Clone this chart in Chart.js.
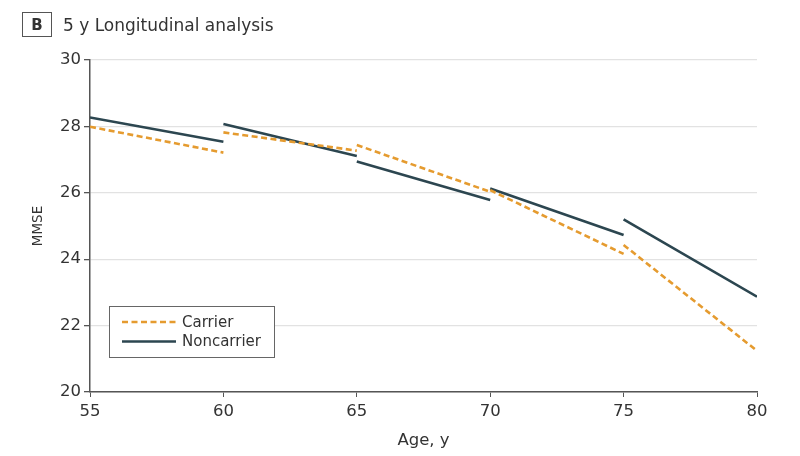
<!DOCTYPE html>
<html>
<head>
<meta charset="utf-8">
<script src="https://cdn.jsdelivr.net/npm/chart.js@4"></script>
<style>
   html, body { margin: 0; padding: 0; background: #fff; }
   .wrap { position: relative; width: 800px; height: 456px; }
   .panel-title { position: absolute; left: 22px; top: 12px; display: flex; align-items: center; font-family: 'DejaVu Sans', sans-serif; color: #333; }
   .panel-letter { width: 28px; height: 23px; border: 1px solid #555; font-weight: 700; font-size: 15px; display: flex; align-items: center; justify-content: center; }
   .panel-text { margin-left: 11px; font-size: 17px; }
</style>
</head>
<body>
<div class="wrap">
   <canvas id="mmseChart" width="800" height="456"></canvas>
   <div class="panel-title">
      <div class="panel-letter">B</div>
      <div class="panel-text">5 y Longitudinal analysis</div>
   </div>
</div>
<script>
// Each 5-year window is drawn as its own line segment
const segmentStartAge = [55, 60, 65, 70, 75];
const segmentEndAge = [60, 65, 70, 75, 80];

const carrierStart = [27.99, 27.82, 27.44, 26.08, 24.43];
const carrierEnd = [27.21, 27.27, 26.03, 24.16, 21.24];

const noncarrierStart = [28.27, 28.07, 26.94, 26.13, 25.20];
const noncarrierEnd = [27.54, 27.11, 25.78, 24.73, 22.87];

const xTicks = [55, 60, 65, 70, 75, 80];
const yTicks = [20, 22, 24, 26, 28, 30];

const seriesNames = ['Carrier', 'Noncarrier'];

// Build point list with a null between windows so the lines break
function buildSegments(starts, ends) {
   const pts = [];
   starts.forEach((s, i) => {
      if (i > 0) pts.push({ x: segmentStartAge[i], y: null });
      pts.push({ x: segmentStartAge[i], y: s });
      pts.push({ x: segmentEndAge[i], y: ends[i] });
   });
   return pts;
}

const FONT = "'DejaVu Sans', sans-serif";
const TEXT = '#333';

// Legend box drawn inside the plot, bottom-left
const insideLegend = {
   id: 'insideLegend',
   afterDraw(chart) {
      const ctx = chart.ctx;
      const x = 109, y = 306, w = 165, h = 51;
      ctx.save();
      ctx.fillStyle = '#fff';
      ctx.fillRect(x, y, w, h);
      ctx.strokeStyle = '#666';
      ctx.lineWidth = 1;
      ctx.strokeRect(x + 0.5, y + 0.5, w, h);
      chart.data.datasets.forEach((ds, i) => {
         const ly = y + 16 + i * 19.5;
         ctx.beginPath();
         ctx.strokeStyle = ds.borderColor;
         ctx.lineWidth = ds.borderWidth;
         ctx.setLineDash(ds.borderDash || []);
         ctx.moveTo(x + 13, ly);
         ctx.lineTo(x + 67, ly);
         ctx.stroke();
         ctx.setLineDash([]);
         ctx.fillStyle = TEXT;
         ctx.font = '15px ' + FONT;
         ctx.textBaseline = 'middle';
         ctx.fillText(ds.label, x + 73, ly + 1);
      });
      ctx.restore();
   }
};

new Chart(document.getElementById('mmseChart'), {
   type: 'line',
   data: {
      datasets: [
         {
            label: seriesNames[0],
            data: buildSegments(carrierStart, carrierEnd),
            borderColor: '#e59b2f',
            borderWidth: 2.6,
            borderDash: [6, 3.5],
            pointRadius: 0,
            spanGaps: false
         },
         {
            label: seriesNames[1],
            data: buildSegments(noncarrierStart, noncarrierEnd),
            borderColor: '#2c4650',
            borderWidth: 2.6,
            pointRadius: 0,
            spanGaps: false
         }
      ]
   },
   options: {
      responsive: false,
      animation: false,
      layout: { padding: { top: 60, right: 43, left: 26, bottom: 0 } },
      plugins: { legend: { display: false }, tooltip: { enabled: false } },
      scales: {
         x: {
            type: 'linear',
            min: xTicks[0],
            max: xTicks[xTicks.length - 1],
            afterBuildTicks: s => { s.ticks = xTicks.map(v => ({ value: v })); },
            afterFit: s => { s.height = 64; },
            grid: { drawOnChartArea: false, tickLength: 5, tickColor: '#555' },
            border: { color: '#555', width: 1.5 },
            ticks: { color: TEXT, font: { family: FONT, size: 16.5 }, padding: 5 },
            title: { display: true, text: 'Age, y', color: TEXT, font: { family: FONT, size: 16.5 }, padding: { top: 0, bottom: 5 } }
         },
         y: {
            min: yTicks[0],
            max: yTicks[yTicks.length - 1],
            afterBuildTicks: s => { s.ticks = yTicks.map(v => ({ value: v })); },
            afterFit: s => { s.width = 64; },
            grid: { color: '#e2e2e2', lineWidth: 1.3, tickLength: 6, tickColor: '#555' },
            border: { color: '#555', width: 1.5 },
            ticks: { color: TEXT, font: { family: FONT, size: 16.5 }, padding: 3 },
            title: { display: true, text: 'MMSE', color: TEXT, font: { family: FONT, size: 13.5 }, padding: { bottom: 2 } }
         }
      }
   },
   plugins: [insideLegend]
});
</script>
</body>
</html>
